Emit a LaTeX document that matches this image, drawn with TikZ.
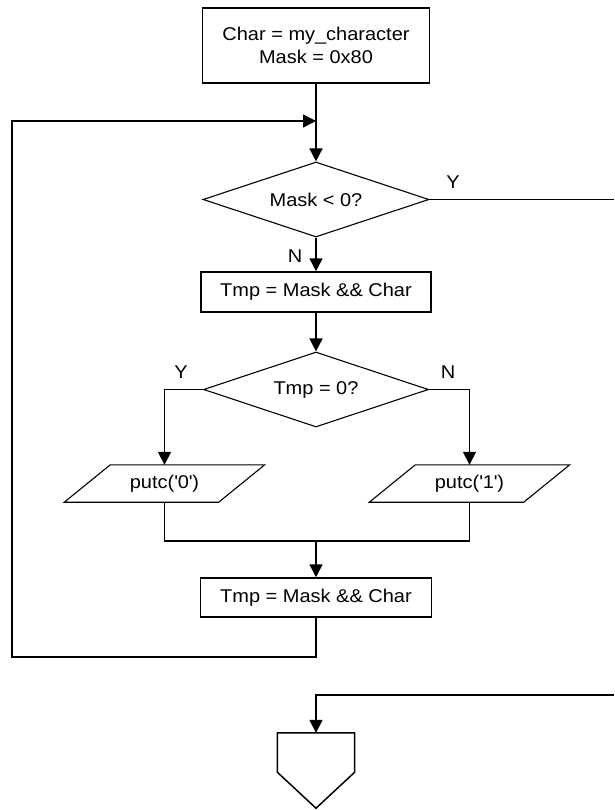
\documentclass[tikz,border=0pt]{standalone}
\usepackage{fontspec}
\setmainfont{Liberation Sans}[FakeStretch=1.08]
\usetikzlibrary{shapes.geometric,arrows.meta,calc}
\begin{document}
\begin{tikzpicture}[x=1pt,y=-1pt,
  every node/.style={font=\fontsize{18.5}{23}\selectfont, inner sep=0pt},
  procbox/.style={draw, line width=1.5pt, rectangle, align=center},
  decis/.style={draw, line width=1.1pt, diamond, aspect=4},
  iobox/.style={rectangle, minimum width=154pt, minimum height=37pt},
  conn/.style={line width=1.5pt},
  arr/.style={conn, -{Triangle[width=13pt,length=13pt]}},
  lbl/.style={}
]
\useasboundingbox (0,0) rectangle (614,810);
% nodes
\node[procbox, minimum width=227pt, minimum height=75pt] (start) at (316,45.5) {Char = my\_character\\Mask = 0x80};
\node[decis, minimum width=226pt, minimum height=75pt] (d1) at (316,199.5) {Mask < 0?};
\node[procbox, minimum width=230pt, minimum height=40pt] (b2) at (316,292) {Tmp = Mask \&\& Char};
\node[decis, minimum width=225pt, minimum height=75pt] (d2) at (316,389.5) {Tmp = 0?};
\node[iobox] (p0) at (164.5,483.5) {putc(\textquotesingle0\textquotesingle)};
\node[iobox] (p1) at (469.5,483.5) {putc(\textquotesingle1\textquotesingle)};
\node[procbox, minimum width=231pt, minimum height=39pt] (b3) at (316,597.5) {Tmp = Mask \&\& Char};
\node[rectangle, minimum width=77pt, minimum height=39pt] (fin) at (316,752.5) {};
% parallelograms and pentagon outlines
\draw[line width=1.1pt] ($(p0.north west)+(23,0)$) -- ($(p0.north east)+(23,0)$) -- ($(p0.south east)+(-23,0)$) -- ($(p0.south west)+(-23,0)$) -- cycle;
\draw[line width=1.1pt] ($(p1.north west)+(23,0)$) -- ($(p1.north east)+(23,0)$) -- ($(p1.south east)+(-23,0)$) -- ($(p1.south west)+(-23,0)$) -- cycle;
\draw[line width=1.5pt] (fin.south west) -- (fin.north west) -- (fin.north east) -- (fin.south east) -- ($(fin.south)+(0,36)$) -- cycle;
% coordinates
\coordinate (j) at (316,121);
\coordinate (lb) at (12,657);
\coordinate (lt) at (12,121);
\coordinate (m) at (316,541);
\coordinate (r1) at (614,199.5);
\coordinate (r2) at (614,695);
\coordinate (c2) at (316,695);
% connectors
\draw[arr] (start.south) -- (d1.north);
\draw[arr] (d1.south) -- (b2.north);
\draw[arr] (b2.south) -- (d2.north);
\draw[arr] (d2.west) -| (p0.north);
\draw[arr] (d2.east) -| (p1.north);
\draw[conn] (p0.south) |- (m) -| (p1.south);
\draw[arr] (m) -- (b3.north);
\draw[arr] (b3.south) |- (lb) -- (lt) -- (j);
\draw[conn] (d1.east) -- (r1);
\draw[arr] (r2) -- (c2) -- (fin.north);
% labels
\node[lbl] (ly1) at (453,182) {Y};
\node[lbl] (ln1) at (295,256) {N};
\node[lbl] (ly2) at (181,372) {Y};
\node[lbl] (ln2) at (448,372) {N};
\end{tikzpicture}
\end{document}
